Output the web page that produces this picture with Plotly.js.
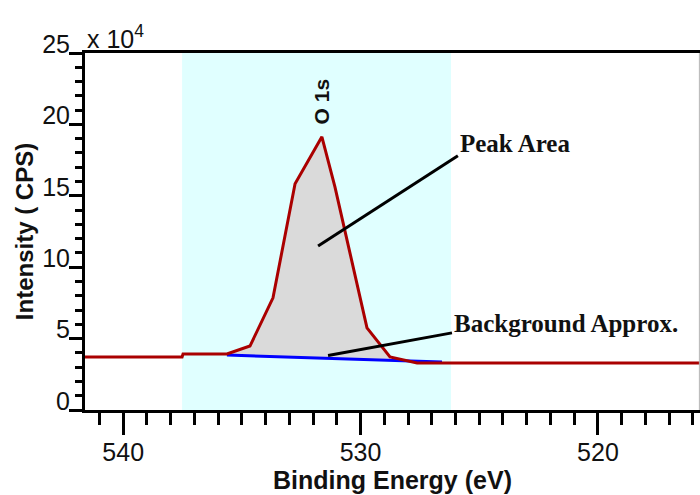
<!DOCTYPE html>
<html>
<head>
<meta charset="utf-8">
<script src="https://cdn.plot.ly/plotly-3.0.1.min.js"></script>
<style>html,body{margin:0;padding:0;background:#fff;}#chart{width:700px;height:495px;}</style>
</head>
<body>
<div id="chart"></div>
<script>
// Binding energy (eV) and intensity (x 10^4 CPS) of the measured O 1s spectrum
const bindingEnergy = [541.61, 537.52, 537.48, 535.63, 534.66, 533.69, 532.76, 531.63, 531.08, 529.73, 528.76, 527.62, 515.70];
const intensity     = [3.71,   3.71,   3.92,   3.92,   4.48,   7.85,   15.84,  19.13,  15.63,  5.75,   3.71,   3.29,   3.29];

// Linear background approximation under the peak
const bgEnergy    = [535.63, 526.57];
const bgIntensity = [3.85,   3.36];

// Where the shaded peak area meets the background line
const fillBaseEnergy    = [528.76, 535.63];
const fillBaseIntensity = [3.48,   3.85];

// Integration window (shaded cyan)
const windowEnergy = [537.52, 526.19];

// Labels
const peakLabel = 'O 1s';
const peakLabelPos = [531.63, 21.6];
const areaLabel = 'Peak Area';
const areaLabelPos = [525.90, 18.64];
const areaPointer = [[525.90, 17.80], [531.79, 11.49]];
const bgLabel = 'Background Approx.';
const bgLabelPos = [526.15, 6.03];
const bgPointer = [[526.15, 5.40], [531.37, 3.82]];

const xTitle = 'Binding Energy (eV)';
const yTitle = 'Intensity ( CPS)';
const scaleLabel = 'x 10<sup>4</sup>';

// Build the filled peak polygon from the spectrum points inside the fill span
const lo = Math.min(...fillBaseEnergy), hi = Math.max(...fillBaseEnergy);
const fillX = [], fillY = [];
bindingEnergy.forEach((e, i) => { if (e >= lo && e <= hi) { fillX.push(e); fillY.push(intensity[i]); } });
fillX.push(...fillBaseEnergy); fillY.push(...fillBaseIntensity);

const traces = [
  {x: fillX, y: fillY, type: 'scatter', mode: 'lines', fill: 'toself',
   fillcolor: '#dadada', line: {width: 0, color: 'rgba(0,0,0,0)'}, hoverinfo: 'skip'},
  {x: bgEnergy, y: bgIntensity, type: 'scatter', mode: 'lines',
   line: {color: '#0000ff', width: 3}},
  {x: bindingEnergy, y: intensity, type: 'scatter', mode: 'lines',
   line: {color: '#aa0000', width: 3}}
];

const SANS = 'Liberation Sans, Arial, sans-serif';
const SERIF = 'Liberation Serif, Times New Roman, serif';

const layout = {
  width: 700, height: 495,
  margin: {l: 85, r: 0, t: 53, b: 85},
  paper_bgcolor: '#ffffff', plot_bgcolor: '#ffffff',
  showlegend: false,
  font: {family: SANS, color: '#000'},
  xaxis: {
    range: [541.61, 515.70], autorange: false,
    tick0: 0, dtick: 10, ticks: 'outside', ticklen: 22, tickwidth: 3, tickcolor: '#000',
    showline: true, linewidth: 3, linecolor: '#000', mirror: true,
    showgrid: false, zeroline: false,
    ticklabelstandoff: -4,
    tickfont: {family: SANS, size: 25, color: '#111'},
    minor: {dtick: 1, ticks: 'outside', ticklen: 12, tickwidth: 3, tickcolor: '#000', showgrid: false},
    title: {text: xTitle, font: {family: SANS, size: 25, weight: 'bold', color: '#111'}, standoff: 6}
  },
  yaxis: {
    range: [0, 25], autorange: false,
    tick0: 0, dtick: 5, ticks: 'outside', ticklen: 13, tickwidth: 3, tickcolor: '#000',
    showline: true, linewidth: 3, linecolor: '#000',
    showgrid: false, zeroline: false,
    ticklabelshift: -9,
    ticklabelstandoff: -6,
    tickfont: {family: SANS, size: 25, color: '#111'},
    minor: {dtick: 1, ticks: 'outside', ticklen: 7, tickwidth: 3, tickcolor: '#000', showgrid: false},
    title: {text: yTitle, font: {family: SANS, size: 24, weight: 'bold', color: '#111'}, standoff: 2}
  },
  shapes: [
    {type: 'rect', xref: 'x', yref: 'paper', x0: windowEnergy[0], x1: windowEnergy[1], y0: 0, y1: 1,
     fillcolor: '#e0ffff', line: {width: 0}, layer: 'below'},
    {type: 'line', xref: 'paper', yref: 'paper', x0: 0.999, x1: 0.999, y0: 0, y1: 1,
     line: {color: '#b4b4b4', width: 1}},
    {type: 'line', xref: 'x', yref: 'y', x0: areaPointer[0][0], y0: areaPointer[0][1],
     x1: areaPointer[1][0], y1: areaPointer[1][1], line: {color: '#000', width: 3}},
    {type: 'line', xref: 'x', yref: 'y', x0: bgPointer[0][0], y0: bgPointer[0][1],
     x1: bgPointer[1][0], y1: bgPointer[1][1], line: {color: '#000', width: 3}}
  ],
  annotations: [
    {text: peakLabel, x: peakLabelPos[0], y: peakLabelPos[1], xref: 'x', yref: 'y', textangle: -90,
     showarrow: false, font: {family: SANS, size: 21, weight: 'bold', color: '#111'}},
    {text: areaLabel, x: areaLabelPos[0], y: areaLabelPos[1], xref: 'x', yref: 'y',
     xanchor: 'left', yanchor: 'middle', showarrow: false,
     font: {family: SERIF, size: 25, weight: 'bold', color: '#111'}},
    {text: bgLabel, x: bgLabelPos[0], y: bgLabelPos[1], xref: 'x', yref: 'y',
     xanchor: 'left', yanchor: 'middle', showarrow: false,
     font: {family: SERIF, size: 25, weight: 'bold', color: '#111'}},
    {text: scaleLabel, x: 0, y: 1, xref: 'paper', yref: 'paper', xanchor: 'left', yanchor: 'bottom',
     yshift: -2, showarrow: false, font: {family: SANS, size: 25, color: '#111'}}
  ]
};

Plotly.newPlot('chart', traces, layout, {displayModeBar: false, staticPlot: true});
</script>
</body>
</html>
